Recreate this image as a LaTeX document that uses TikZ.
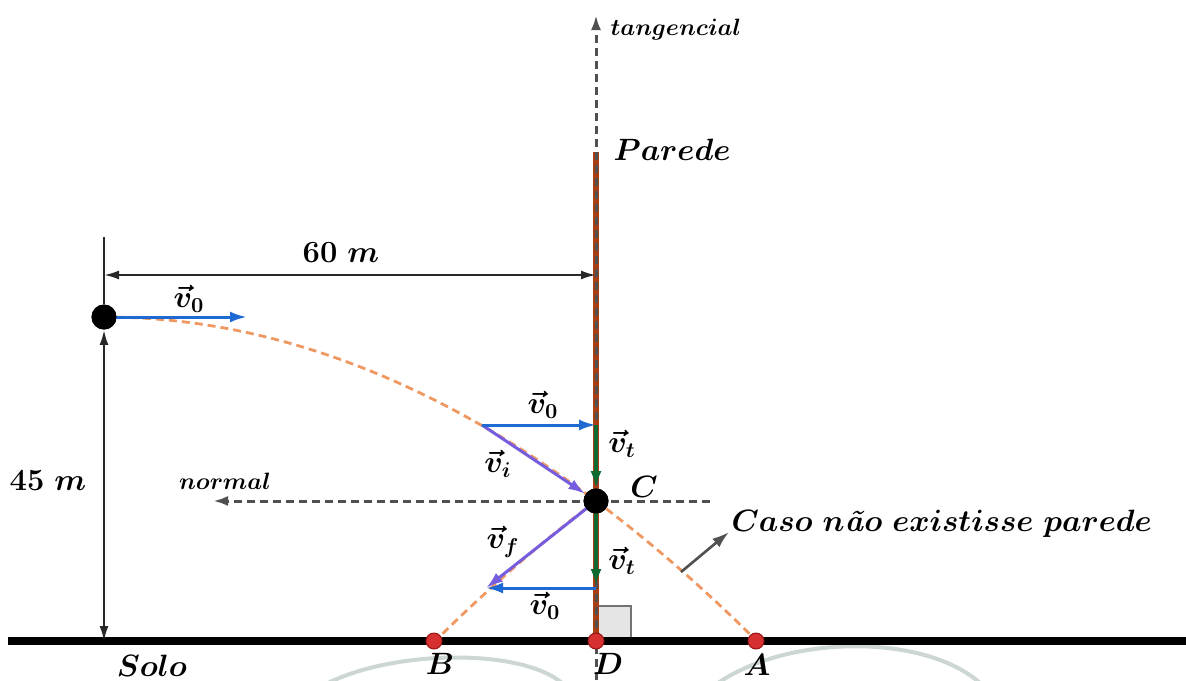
\documentclass[tikz,border=0pt]{standalone}
\usepackage{amsmath,bm}
\usetikzlibrary{arrows.meta}
\definecolor{orng}{RGB}{240,152,98}
\definecolor{vblue}{RGB}{30,105,210}
\definecolor{vpurp}{RGB}{118,92,222}
\definecolor{vgreen}{RGB}{12,105,50}
\definecolor{wallc}{RGB}{168,62,22}
\definecolor{axc}{RGB}{80,80,80}
\definecolor{dimc}{RGB}{40,40,40}
\definecolor{redpt}{RGB}{214,48,48}
\definecolor{redbd}{RGB}{150,20,20}
\definecolor{arcc}{RGB}{204,214,210}
\begin{document}
\begin{tikzpicture}[x=0.5pt,y=-0.5pt,
  lbl/.style={font=\fontsize{14.4}{17}\selectfont,scale=1.07},
  slbl/.style={font=\fontsize{10.95}{13}\selectfont,scale=1.08},
  vecarrow/.style={line width=1.5pt,-{Latex[length=8.5pt,width=5.5pt]}},
  dimline/.style={draw=dimc,line width=1.1pt,{Latex[length=7.5pt,width=4.5pt]}-{Latex[length=7.5pt,width=4.5pt]}},
  axis/.style={draw=axc,line width=1.5pt,dash pattern=on 4pt off 2.5pt,-{Latex[length=7.5pt,width=5pt]}},
  traj/.style={draw=orng,line width=1.4pt,dash pattern=on 4pt off 2.5pt},
  ball/.style={circle,fill=black,minimum size=12.5pt,inner sep=0pt},
  rpt/.style={circle,fill=redpt,draw=redbd,line width=0.5pt,minimum size=8pt,inner sep=0pt}]
\useasboundingbox (0,0) rectangle (1186,680);
% background arcs
\draw[arcc,line width=2pt] (328,683) .. controls (395,650) and (520,648) .. (562,683);
\draw[arcc,line width=2pt] (718,683) .. controls (790,634) and (925,634) .. (980,683);
% right-angle mark
\draw[fill=black!10,draw=black!55,line width=1.2pt] (596,606) rectangle (631,641);
% ground
\coordinate (g0) at (8,641);
\coordinate (g1) at (1186,641);
\draw[black,line width=4pt] (g0) -- (g1);
% wall
\coordinate (w0) at (596,152);
\coordinate (w1) at (596,641);
\draw[wallc,line width=3.2pt] (w0) -- (w1);
% tangencial axis
\coordinate (t0) at (596,680);
\coordinate (t1) at (596,15);
\draw[axis] (t0) -- (t1);
\node[slbl,anchor=west] (tang) at (603,30) {$\boldsymbol{tangencial}$};
\node[lbl,anchor=west] (par) at (606,150) {$\bm{Parede}$};
% normal axis
\coordinate (n0) at (710,501);
\coordinate (n1) at (213,501);
\draw[axis] (n0) -- (n1);
\node[slbl] (norm) at (225,481) {$\bm{normal}$};
% trajectory
\draw[traj] plot[domain=104:596,samples=60,smooth] (\x,{317+(0.027568*(\x-104))^2});
\draw[traj] plot[domain=596:758,samples=30,smooth] (\x,{317+(0.027568*(\x-104))^2});
\draw[traj] plot[domain=596:758,samples=30,smooth] ({1192-\x},{317+(0.027568*(\x-104))^2});
% nodes
\node[ball] (ball0) at (104,317) {};
\node[ball] (C) at (596,501) {};
\node[rpt] (B) at (434,641) {};
\node[rpt] (D) at (596,641) {};
\node[rpt] (A) at (756,641) {};
% dimension lines
\coordinate (ext) at (104,237);
\coordinate (g45) at (104,641);
\draw[dimc,line width=1.1pt] (ext) -- (ball0);
\draw[dimline] (ball0) -- (g45);
\coordinate (d60a) at (104,275);
\coordinate (d60b) at (596,275);
\draw[dimline] (d60a) -- (d60b);
\node[lbl] (l60) at (341,253) {$\mathbf{60}\ \bm{m}$};
\node[lbl] (l45) at (48,481) {$\mathbf{45}\ \bm{m}$};
% initial velocity
\coordinate (v0e) at (247,317);
\draw[vecarrow,vblue] (ball0.center) -- (v0e);
\node[ball] (ball0b) at (104,317) {};
\node[lbl] (lv0a) at (189,299) {$\bm{\vec{v}_0}$};
% vectors near C
\coordinate (P1) at (482,425);
\coordinate (Q1) at (596,425);
\coordinate (Q2) at (596,588);
\coordinate (P2) at (486,588);
\draw[vecarrow,vpurp] (P1) -- (C);
\draw[vecarrow,vblue] (P1) -- (Q1);
\draw[vecarrow,vgreen,line width=1.8pt] (Q1) -- (C);
\draw[vecarrow,vgreen,line width=1.8pt] (C.center) -- (596,586);
\draw[vecarrow,vblue] (Q2) -- (P2);
\draw[vecarrow,vpurp] (C.center) -- (P2);
\node[ball] (C2) at (596,501) {};
\node[lbl] (lv0b) at (543,405) {$\bm{\vec{v}_0}$};
\node[lbl] (lvt1) at (622,444) {$\bm{\vec{v}_t}$};
\node[lbl] (lvi) at (498,464) {$\bm{\vec{v}_i}$};
\node[lbl] (lvf) at (503,542) {$\bm{\vec{v}_f}$};
\node[lbl] (lvt2) at (622,561) {$\bm{\vec{v}_t}$};
\node[lbl] (lv0c) at (545,606) {$\bm{\vec{v}_0}$};
\node[lbl] (lC) at (644,487) {$\bm{C}$};
% point labels
\node[lbl] (lB) at (440,664) {$\bm{B}$};
\node[lbl] (lD) at (608,664) {$\bm{D}$};
\node[lbl] (lA) at (757,665) {$\bm{A}$};
\node[lbl] (solo) at (152,666) {$\bm{Solo}$};
% caso label
\coordinate (cs0) at (681,572);
\node[lbl,anchor=west,inner sep=1pt] (caso) at (729,524) {$\bm{Caso\ n}$\textbf{\textit{ã}}$\bm{o\ existisse\ parede}$};
\draw[axc,line width=1.3pt,-{Latex[length=8.5pt,width=5.5pt]}] (cs0) -- ([yshift=-4pt]caso.west);
\end{tikzpicture}
\end{document}
